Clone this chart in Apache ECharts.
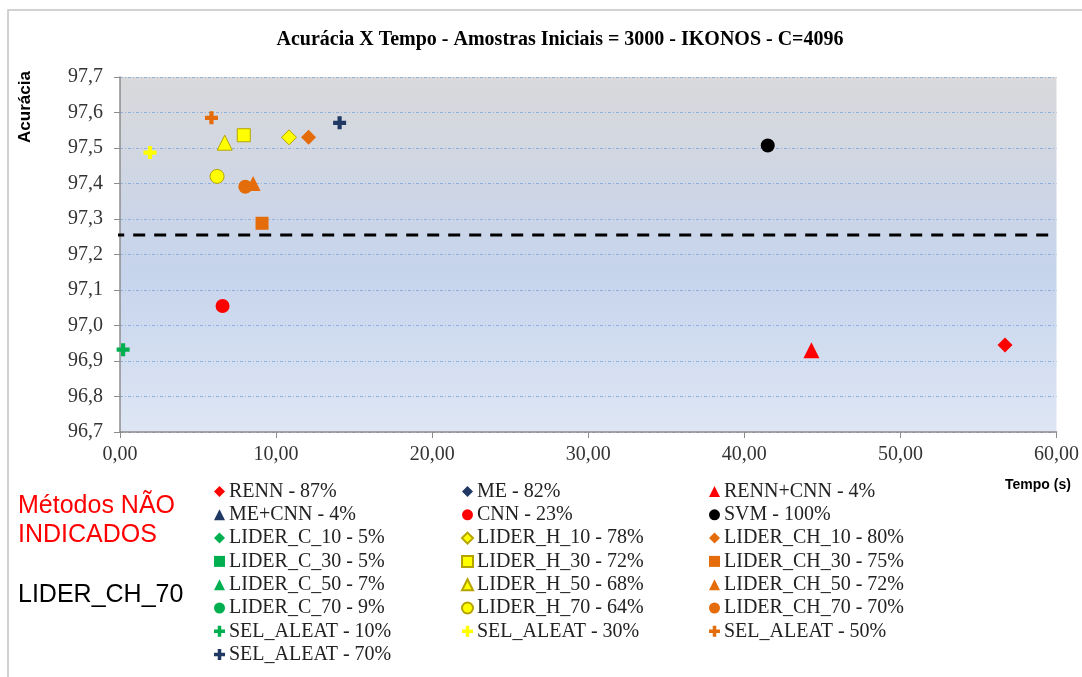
<!DOCTYPE html>
<html><head><meta charset="utf-8">
<script src="https://cdn.jsdelivr.net/npm/echarts@6/dist/echarts.min.js"></script>
<style>html,body{margin:0;padding:0;background:#fff}#c{width:1082px;height:677px}</style>
</head><body><div id="c"></div>
<script>
// ---- data (time in s, accuracy in %) ----
const RENN        = [[56.7, 96.945]];
const ME          = [];
const RENN_CNN    = [[44.3, 96.93]];
const ME_CNN      = [];
const CNN         = [[6.57, 97.055]];
const SVM         = [[41.5, 97.507]];
const LIDER_C_10  = [];
const LIDER_C_30  = [];
const LIDER_C_50  = [];
const LIDER_C_70  = [];
const LIDER_H_10  = [[10.83, 97.53]];
const LIDER_H_30  = [[7.93, 97.536]];
const LIDER_H_50  = [[6.71, 97.515]];
const LIDER_H_70  = [[6.22, 97.42]];
const LIDER_CH_10 = [[12.08, 97.53]];
const LIDER_CH_30 = [[9.1, 97.288]];
const LIDER_CH_50 = [[8.53, 97.40]];
const LIDER_CH_70 = [[8.03, 97.391]];
const SEL_10      = [[0.2, 96.932]];
const SEL_30      = [[1.92, 97.487]];
const SEL_50      = [[5.86, 97.585]];
const SEL_70      = [[14.07, 97.571]];
const thresholdY  = 97.255;
const thresholdX  = [-0.5, 60];

const titleText = 'Acurácia X Tempo - Amostras Iniciais = 3000 - IKONOS - C=4096';
const xName = 'Tempo (s)';
const yName = 'Acurácia';

const RED='#ff0000', NAVY='#1f3864', GREEN='#00b050', YEL='#ffff00', ORG='#e46c0a', BLK='#000000';
const PLUS='path://M3.4,0h3.2v3.4h3.4v3.2h-3.4v3.4h-3.2v-3.4h-3.4v-3.2h3.4z';

const defs = [
  ['RENN - 87%', RENN, 'diamond', RED, 15],
  ['ME - 82%', ME, 'diamond', NAVY, 15],
  ['RENN+CNN - 4%', RENN_CNN, 'triangle', RED, 16],
  ['ME+CNN - 4%', ME_CNN, 'triangle', NAVY, 16],
  ['CNN - 23%', CNN, 'circle', RED, 14],
  ['SVM - 100%', SVM, 'circle', BLK, 14],
  ['LIDER_C_10 - 5%', LIDER_C_10, 'diamond', GREEN, 15],
  ['LIDER_H_10 - 78%', LIDER_H_10, 'diamond', YEL, 15, '#b5a300'],
  ['LIDER_CH_10 - 80%', LIDER_CH_10, 'diamond', ORG, 15],
  ['LIDER_C_30 - 5%', LIDER_C_30, 'rect', GREEN, 13],
  ['LIDER_H_30 - 72%', LIDER_H_30, 'rect', YEL, 13, '#b5a300'],
  ['LIDER_CH_30 - 75%', LIDER_CH_30, 'rect', ORG, 13],
  ['LIDER_C_50 - 7%', LIDER_C_50, 'triangle', GREEN, 15],
  ['LIDER_H_50 - 68%', LIDER_H_50, 'triangle', YEL, 15, '#b5a300'],
  ['LIDER_CH_50 - 72%', LIDER_CH_50, 'triangle', ORG, 15],
  ['LIDER_C_70 - 9%', LIDER_C_70, 'circle', GREEN, 14],
  ['LIDER_H_70 - 64%', LIDER_H_70, 'circle', YEL, 14, '#b5a300'],
  ['LIDER_CH_70 - 70%', LIDER_CH_70, 'circle', ORG, 14],
  ['SEL_ALEAT - 10%', SEL_10, PLUS, GREEN, 13],
  ['SEL_ALEAT - 30%', SEL_30, PLUS, YEL, 13],
  ['SEL_ALEAT - 50%', SEL_50, PLUS, ORG, 13],
  ['SEL_ALEAT - 70%', SEL_70, PLUS, NAVY, 13]
];
const legendCols = [
  ['RENN - 87%','ME+CNN - 4%','LIDER_C_10 - 5%','LIDER_C_30 - 5%','LIDER_C_50 - 7%','LIDER_C_70 - 9%','SEL_ALEAT - 10%','SEL_ALEAT - 70%'],
  ['ME - 82%','CNN - 23%','LIDER_H_10 - 78%','LIDER_H_30 - 72%','LIDER_H_50 - 68%','LIDER_H_70 - 64%','SEL_ALEAT - 30%'],
  ['RENN+CNN - 4%','SVM - 100%','LIDER_CH_10 - 80%','LIDER_CH_30 - 75%','LIDER_CH_50 - 72%','LIDER_CH_70 - 70%','SEL_ALEAT - 50%']
];
const legendLeft = [214, 461, 709];

const iconOf = {};
defs.forEach(d => iconOf[d[0]] = d[2]);

const series = defs.map(d => ({
  name: d[0], type: 'scatter', data: d[1], symbol: d[2], symbolSize: d[4],
  itemStyle: { color: d[3], borderColor: d[5] || d[3], borderWidth: d[5] ? 1 : 0, opacity: 1 },
  emphasis: { disabled: true }, z: 3
}));
series.push({
  name: 'limiar', type: 'line', data: thresholdX.map(x => [x, thresholdY]),
  symbol: 'none', clip: false, silent: true, z: 2,
  lineStyle: { color: '#000', width: 3, type: [12, 9] }
});

const chart = echarts.init(document.getElementById('c'), null, { renderer: 'canvas' });
chart.setOption({
  animation: false,
  backgroundColor: '#fff',
  grid: {
    left: 120, top: 77, right: 24, bottom: 245, show: true, borderWidth: 0,
    backgroundColor: new echarts.graphic.LinearGradient(0, 0, 0, 1, [
      { offset: 0, color: '#d9d9db' },
      { offset: 0.55, color: '#c6d4ec' },
      { offset: 1, color: '#dee6f4' }
    ])
  },
  xAxis: {
    type: 'value', min: 0, max: 60, interval: 10,
    axisLine: { show: true, lineStyle: { color: '#8c8c8c', width: 1.5 } },
    axisTick: { show: true, length: 6, lineStyle: { color: '#8c8c8c' } },
    splitLine: { show: false },
    axisLabel: { margin: 13, fontFamily: 'Liberation Serif', fontSize: 20, color: '#333',
      formatter: v => v.toFixed(2).replace('.', ',') }
  },
  yAxis: {
    type: 'value', min: 96.7, max: 97.7, interval: 0.1,
    axisLine: { show: true, onZero: false, lineStyle: { color: '#8c8c8c', width: 1.5 } },
    axisTick: { show: true, length: 6, lineStyle: { color: '#8c8c8c' } },
    splitLine: { show: true, lineStyle: { color: '#8fb0dc', width: 1, type: [3, 2, 1, 2] } },
    axisLabel: { margin: 17, fontFamily: 'Liberation Serif', fontSize: 20, color: '#333',
      formatter: v => v.toFixed(1).replace('.', ',') }
  },
  legend: legendCols.map((col, i) => ({
    orient: 'vertical', left: legendLeft[i], top: 481.5, padding: 0,
    itemWidth: 11, itemHeight: 11, itemGap: 3.3, selectedMode: false,
    data: col.map(n => ({ name: n, icon: iconOf[n] })),
    textStyle: { fontFamily: 'Liberation Serif', fontSize: 20, lineHeight: 20, color: '#222', padding: [0, 0, 0, -1] }
  })),
  graphic: [
    { type: 'rect', shape: { x: 8, y: 10, width: 1100, height: 700 }, style: { fill: 'none', stroke: '#c4c4c4', lineWidth: 1.5 }, silent: true, z: -1 },
    { type: 'text', x: 560, y: 40, style: { text: titleText, font: 'bold 20px "Liberation Serif"', fill: '#000', textAlign: 'center', textVerticalAlign: 'middle' } },
    { type: 'text', x: 25, y: 107, rotation: Math.PI / 2, style: { text: yName, font: 'bold 17px "Liberation Sans"', fill: '#000', textAlign: 'center', textVerticalAlign: 'middle' } },
    { type: 'text', x: 1038, y: 485, style: { text: xName, font: 'bold 14px "Liberation Sans"', fill: '#000', textAlign: 'center', textVerticalAlign: 'middle' } },
    { type: 'text', x: 18, y: 506, style: { text: 'Métodos NÃO', font: '25px "Liberation Sans"', fill: '#ff0000', textVerticalAlign: 'middle' } },
    { type: 'text', x: 18, y: 535, style: { text: 'INDICADOS', font: '25px "Liberation Sans"', fill: '#ff0000', textVerticalAlign: 'middle' } },
    { type: 'text', x: 18, y: 595, style: { text: 'LIDER_CH_70', font: '25px "Liberation Sans"', fill: '#000', textVerticalAlign: 'middle' } }
  ],
  series: series
});
</script></body></html>
